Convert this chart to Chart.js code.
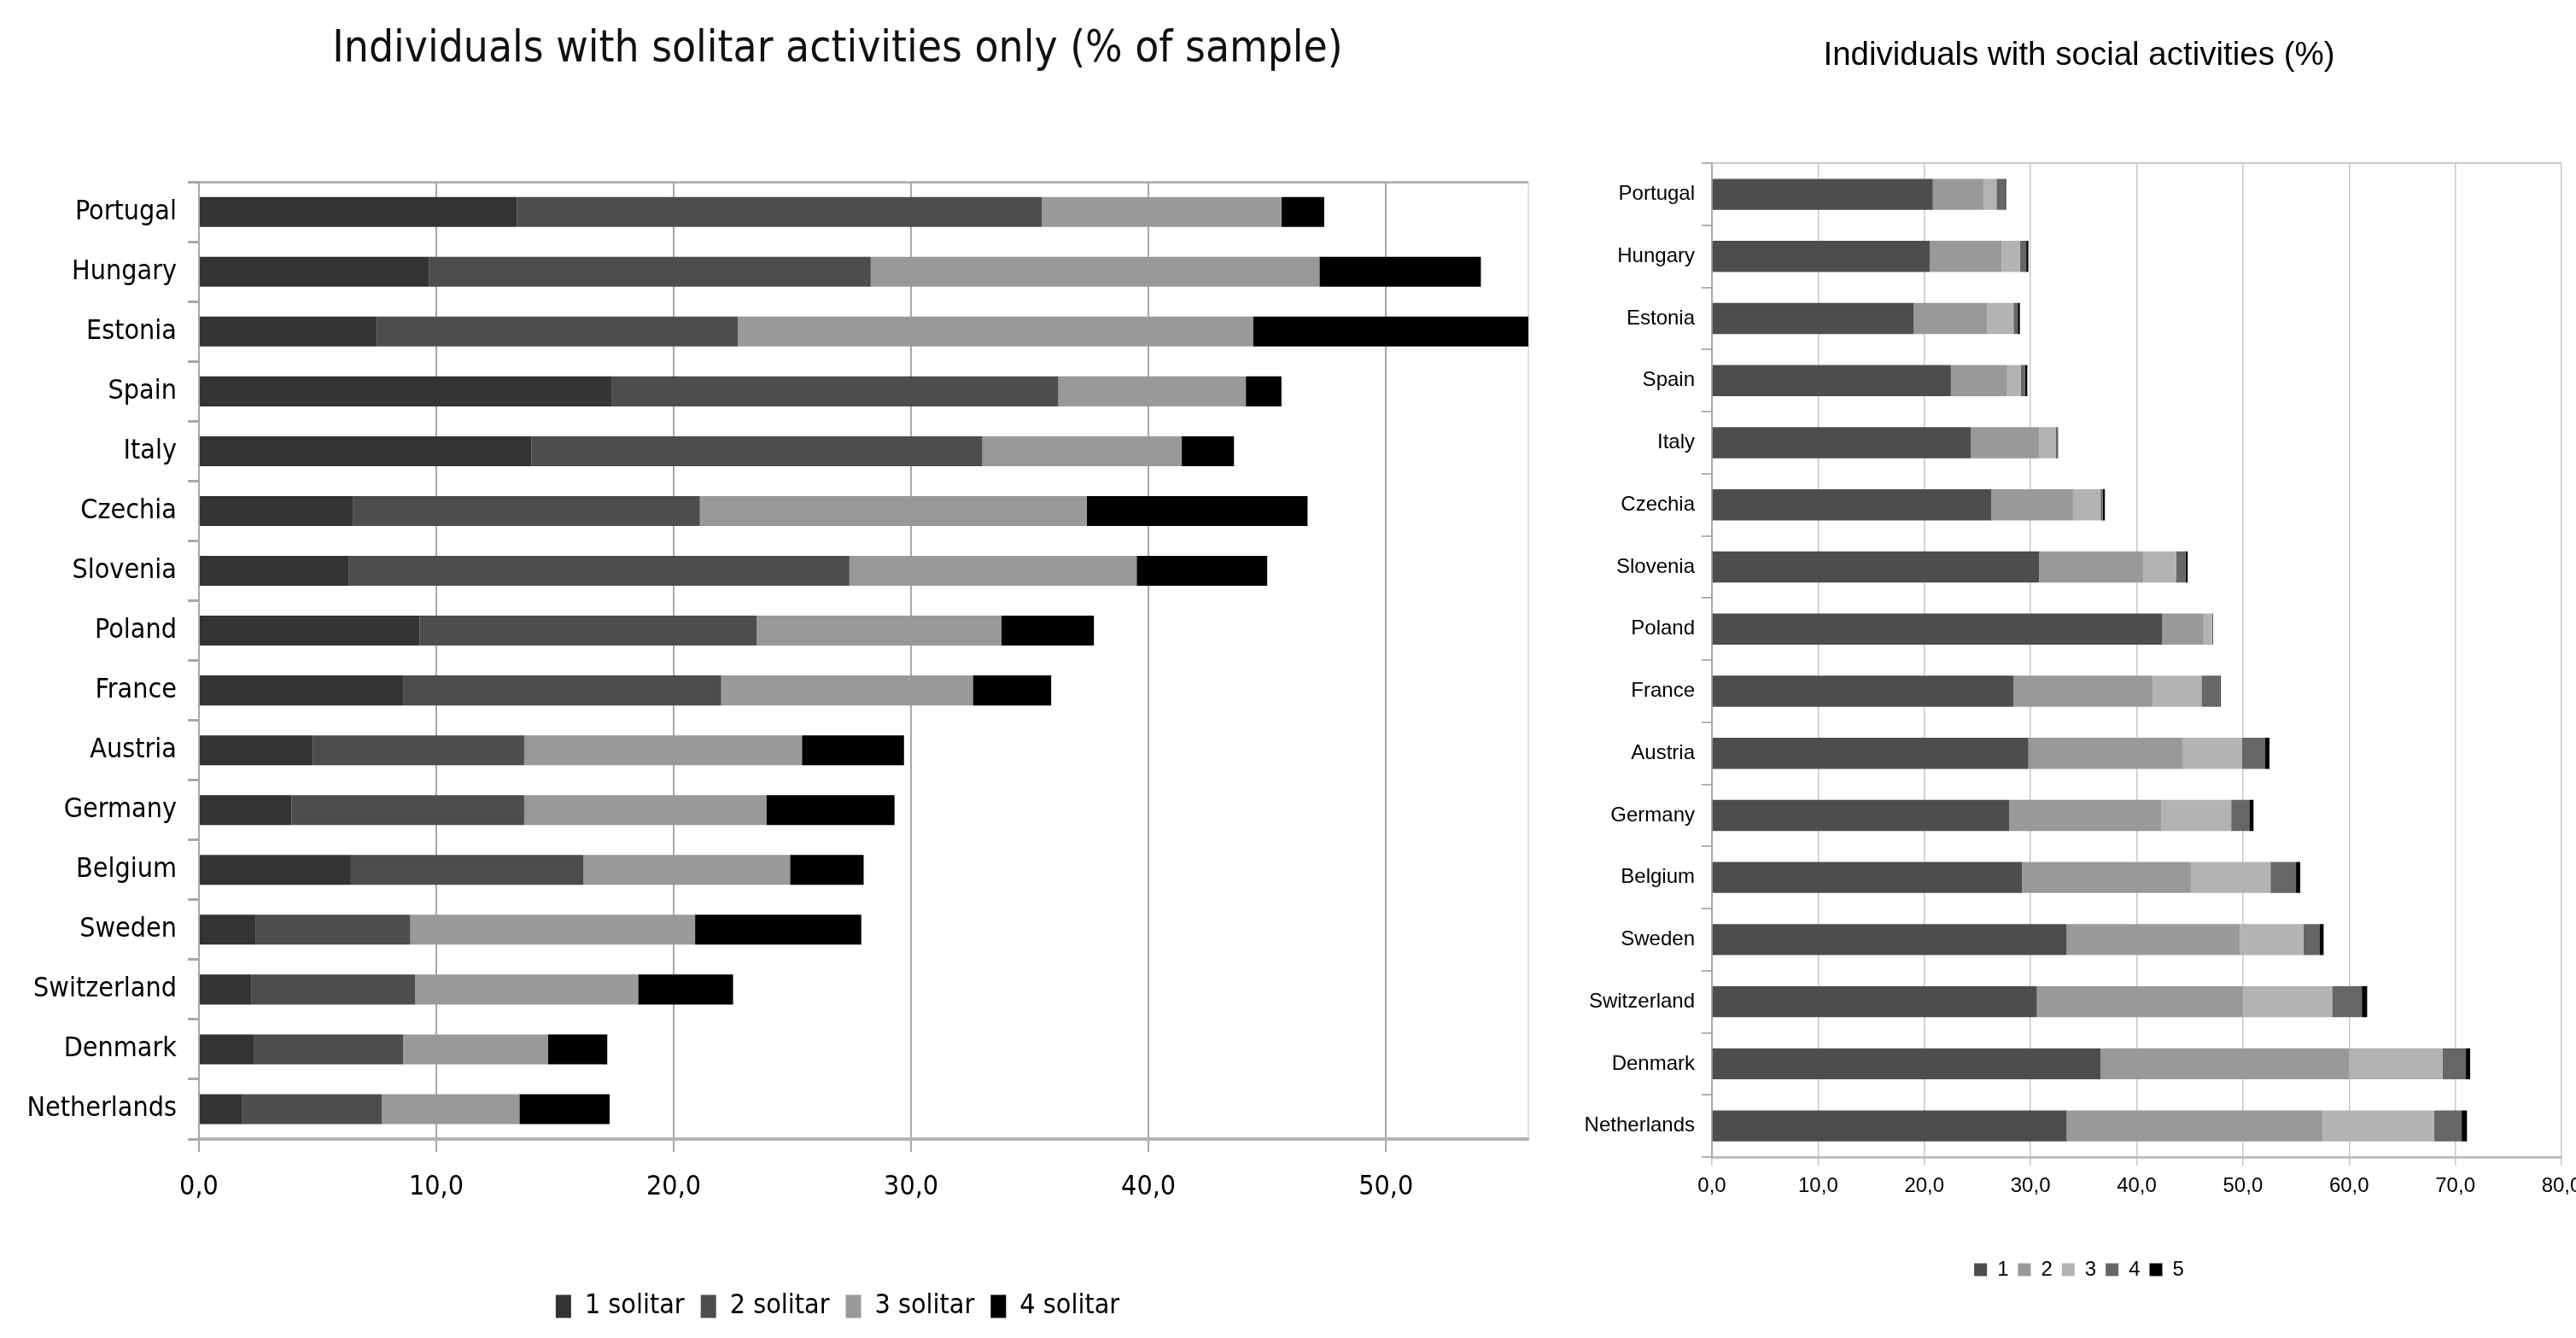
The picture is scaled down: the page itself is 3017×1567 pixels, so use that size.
<!DOCTYPE html>
<html>
<head>
<meta charset="utf-8">
<script src="https://cdn.jsdelivr.net/npm/chart.js@4.4.1/dist/chart.umd.min.js"></script>
<style>
body{margin:0;background:#fff;width:3017px;height:1567px;overflow:hidden;position:relative;}
canvas{position:absolute;top:0;}
</style>
</head>
<body>
<canvas id="solitarChart" width="1962" height="1567" style="left:0"></canvas>
<canvas id="socialChart" width="1210" height="1567" style="left:1830px"></canvas>
<script>
var countries=["Portugal","Hungary","Estonia","Spain","Italy","Czechia","Slovenia","Poland","France","Austria","Germany","Belgium","Sweden","Switzerland","Denmark","Netherlands"];

// left chart: solitar activities only
var solitar1=[13.4,9.7,7.5,17.4,14.0,6.5,6.3,9.3,8.6,4.8,3.9,6.4,2.4,2.2,2.3,1.8];
var solitar2=[22.1,18.6,15.2,18.8,19.0,14.6,21.1,14.2,13.4,8.9,9.8,9.8,6.5,6.9,6.3,5.9];
var solitar3=[10.1,18.9,21.7,7.9,8.4,16.3,12.1,10.3,10.6,11.7,10.2,8.7,12.0,9.4,6.1,5.8];
var solitar4=[1.8,6.8,11.6,1.5,2.2,9.3,5.5,3.9,3.3,4.3,5.4,3.1,7.0,4.0,2.5,3.8];
var solitarLabels=["1 solitar","2 solitar","3 solitar","4 solitar"];
var solitarTicks=[0,10,20,30,40,50];
var solitarMax=56;

// right chart: social activities
var social1=[20.8,20.5,19.0,22.5,24.4,26.3,30.8,42.4,28.4,29.8,28.0,29.2,33.4,30.6,36.6,33.4];
var social2=[4.8,6.8,6.9,5.3,6.4,7.7,9.8,3.9,13.1,14.5,14.3,15.9,16.3,19.4,23.4,24.1];
var social3=[1.2,1.7,2.5,1.3,1.6,2.6,3.1,0.8,4.6,5.6,6.6,7.5,6.0,8.4,8.8,10.5];
var social4=[0.8,0.6,0.4,0.4,0.2,0.2,0.9,0.1,1.7,2.2,1.7,2.4,1.5,2.8,2.2,2.6];
var social5=[0.1,0.2,0.2,0.2,0.0,0.2,0.2,0.0,0.1,0.4,0.4,0.4,0.4,0.5,0.4,0.5];
var socialLabels=["1","2","3","4","5"];

var narrow="'Liberation Sans Narrow','DejaVu Sans Condensed','Arial Narrow',sans-serif";
var regular="'Liberation Sans',Arial,sans-serif";

function commaFormat(v){
    return v.toFixed(1).replace('.',',');
}

// empty axis on the right, only used to shift the centred title and legend
function spacerAxis(w){
    return {
        type: 'linear',
        position: 'right',
        min: 0,
        max: 1,
        grid: {display: false},
        border: {display: false},
        ticks: {display: false},
        afterFit: function(scale){ scale.width = w; }
    };
}

var solitarChart = new Chart(document.getElementById("solitarChart"), {
    type: 'bar',
    data: {
        labels: countries,
        datasets: [
            {label: solitarLabels[0], data: solitar1, backgroundColor: "#333333"},
            {label: solitarLabels[1], data: solitar2, backgroundColor: "#4d4d4d"},
            {label: solitarLabels[2], data: solitar3, backgroundColor: "#999999"},
            {label: solitarLabels[3], data: solitar4, backgroundColor: "#000000"}
        ]
    },
    options: {
        indexAxis: 'y',
        responsive: false,
        animation: false,
        layout: {padding: {left: 0, right: 0, top: 0, bottom: 11}},
        datasets: {bar: {categoryPercentage: 0.5, barPercentage: 1}},
        scales: {
            x: {
                stacked: true,
                min: 0,
                max: solitarMax,
                afterBuildTicks: function(scale){
                    scale.ticks = solitarTicks.concat([solitarMax]).map(function(v){ return {value: v}; });
                },
                afterFit: function(scale){
                    scale.height = 161;
                    scale.paddingLeft = 0;
                    scale.paddingRight = 0;
                },
                ticks: {
                    font: {family: narrow, size: 32},
                    color: '#000',
                    padding: 22,
                    maxRotation: 0,
                    autoSkip: false,
                    callback: function(v){ return v > 50 ? '' : commaFormat(v); }
                },
                grid: {
                    color: function(ctx){ return ctx.tick && ctx.tick.value > 50 ? '#f2dada' : '#a8a8a8'; },
                    tickColor: function(ctx){ return ctx.tick && ctx.tick.value > 50 ? 'rgba(0,0,0,0)' : '#a8a8a8'; },
                    lineWidth: 2,
                    tickLength: 15
                },
                border: {color: '#b4b4b4', width: 4}
            },
            y: {
                stacked: true,
                afterFit: function(scale){ scale.width = 233; },
                ticks: {font: {family: narrow, size: 32}, color: '#000', padding: 13, autoSkip: false},
                grid: {
                    color: function(ctx){ return ctx.index === 0 ? '#b4b4b4' : 'rgba(0,0,0,0)'; },
                    tickColor: '#a8a8a8',
                    lineWidth: 3,
                    tickWidth: 3,
                    tickLength: 13
                },
                border: {color: '#a8a8a8', width: 2}
            },
            spacer: spacerAxis(172)
        },
        plugins: {
            title: {
                display: true,
                text: 'Individuals with solitar activities only (% of sample)',
                font: {family: narrow, size: 51, weight: 'normal'},
                color: '#111',
                padding: {top: 28, bottom: 124}
            },
            legend: {
                position: 'bottom',
                labels: {font: {family: narrow, size: 32}, color: '#000', boxWidth: 18, boxHeight: 27, padding: 19}
            },
            tooltip: {enabled: false}
        }
    }
});

var socialChart = new Chart(document.getElementById("socialChart"), {
    type: 'bar',
    data: {
        labels: countries,
        datasets: [
            {label: socialLabels[0], data: social1, backgroundColor: "#4d4d4d"},
            {label: socialLabels[1], data: social2, backgroundColor: "#999999"},
            {label: socialLabels[2], data: social3, backgroundColor: "#b3b3b3"},
            {label: socialLabels[3], data: social4, backgroundColor: "#666666"},
            {label: socialLabels[4], data: social5, backgroundColor: "#000000"}
        ]
    },
    options: {
        indexAxis: 'y',
        responsive: false,
        animation: false,
        layout: {padding: {left: 0, right: 0, top: 0, bottom: 58}},
        datasets: {bar: {categoryPercentage: 0.5, barPercentage: 1}},
        scales: {
            x: {
                stacked: true,
                min: 0,
                max: 80,
                afterFit: function(scale){
                    scale.height = 109;
                    scale.paddingLeft = 0;
                    scale.paddingRight = 0;
                },
                ticks: {
                    stepSize: 10,
                    font: {family: regular, size: 24},
                    color: '#000',
                    padding: 10,
                    maxRotation: 0,
                    autoSkip: false,
                    callback: function(v){ return commaFormat(v); }
                },
                grid: {color: '#c8c8c8', lineWidth: 1.5, tickLength: 10},
                border: {color: '#bdbdbd', width: 3}
            },
            y: {
                stacked: true,
                afterFit: function(scale){ scale.width = 175; },
                ticks: {font: {family: regular, size: 24}, color: '#000', padding: 8, autoSkip: false},
                grid: {
                    color: function(ctx){ return ctx.index === 0 ? '#c8c8c8' : 'rgba(0,0,0,0)'; },
                    tickColor: '#b0b0b0',
                    lineWidth: 2,
                    tickLength: 12
                },
                border: {color: '#a8a8a8', width: 2}
            },
            spacer: spacerAxis(40)
        },
        plugins: {
            title: {
                display: true,
                text: 'Individuals with social activities (%)',
                font: {family: regular, size: 38.5, weight: 'normal'},
                color: '#000',
                padding: {top: 42, bottom: 103}
            },
            legend: {
                position: 'bottom',
                labels: {font: {family: regular, size: 24}, color: '#000', boxWidth: 15, boxHeight: 15, padding: 11}
            },
            tooltip: {enabled: false}
        }
    }
});
</script>
</body>
</html>
